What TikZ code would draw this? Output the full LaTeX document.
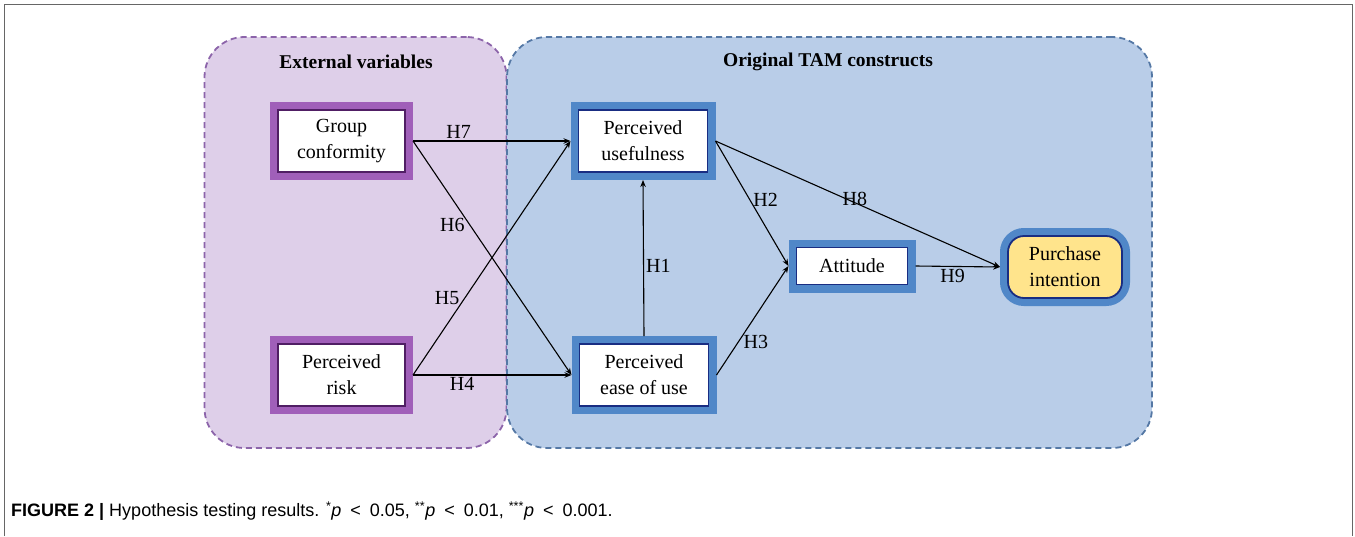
\documentclass[tikz,border=0pt]{standalone}
\usepackage{fontspec}
\setmainfont{Liberation Serif}
\newfontfamily\capfont{Liberation Sans}
\usetikzlibrary{arrows.meta, positioning}

\definecolor{extfill}{RGB}{222,207,233}
\definecolor{extline}{RGB}{140,100,170}
\definecolor{tamfill}{RGB}{185,205,232}
\definecolor{tamline}{RGB}{85,120,165}
\definecolor{purpframe}{RGB}{160,95,185}
\definecolor{purpedge}{RGB}{80,30,100}
\definecolor{blueframe}{RGB}{80,135,200}
\definecolor{blueedge}{RGB}{25,45,130}
\definecolor{piyellow}{RGB}{255,228,140}

\tikzset{
  region/.style={rectangle, rounded corners=40pt, draw=#1, line width=1.8pt,
    dash pattern=on 6pt off 4pt},
  header/.style={font=\bfseries\fontsize{19.5}{22}\selectfont},
  construct/.style={rectangle, fill=white, line width=1.8pt, align=center,
    inner sep=2pt, outer sep=8pt, minimum height=62pt,
    font=\fontsize{20}{26}\selectfont},
  extvar/.style={construct, draw=purpedge,
    preaction={draw=purpframe, line width=16pt}, minimum width=127pt},
  tamvar/.style={construct, draw=blueedge,
    preaction={draw=blueframe, line width=16pt}, minimum width=129pt},
  conn/.style={-{Stealth[length=7pt,width=5.5pt]}, line width=1.1pt},
  hlab/.style={font=\fontsize{20}{24}\selectfont, inner sep=2pt}
}

\begin{document}
\begin{tikzpicture}[x=1pt,y=-1pt]
  \useasboundingbox (0,0) rectangle (1355,536);
  % Frame
  \draw[gray!80!black, line width=1.5pt] (4.5,536) -- (4.5,4.5) -- (1352.5,4.5) -- (1352.5,536);

  % Regions
  \node[region=extline, fill=extfill, minimum width=302pt, minimum height=411pt] (ext) at (355.5,242.5) {};
  \node[region=tamline, fill=tamfill, minimum width=645pt, minimum height=411pt] (tam) at (829.5,242.5) {};
  \node[header] (exthead) at (356,62) {External variables};
  \node[header] (tamhead) at (828,62) {Original TAM constructs};

  % Constructs
  \node[extvar] (gc) at (341.5,141) {Group\\conformity};
  \node[extvar] (pr) at (341.5,375) {Perceived\\risk};
  \node[tamvar] (pu) at (643,141) {Perceived\\usefulness};
  \node[tamvar] (peou) at (644,375) {Perceived\\ease of use};
  \node[tamvar, minimum width=111pt, minimum height=37pt] (att) at (852,266) {Attitude};
  \node[tamvar, fill=piyellow, rounded corners=16pt, minimum width=114pt] (pi) at (1065,267) {Purchase\\intention};

  % Hypotheses
  \draw[conn] (gc.east) -- (pu.west) node[hlab, pos=0.29, above] {H7};
  \draw[conn] (gc.east) -- (peou.west) node[hlab, pos=0.36, left=3pt] {H6};
  \draw[conn] (pr.east) -- (pu.west) node[hlab, pos=0.33, left=3pt] {H5};
  \draw[conn] (pr.east) -- (peou.west) node[hlab, pos=0.31, below] {H4};
  \draw[conn] (peou.north) -- (pu.south) node[hlab, pos=0.45, right] {H1};
  \draw[conn] (pu.east) -- (att.west) node[hlab, pos=0.47, right=1pt] {H2};
  \draw[conn] (peou.east) -- (att.west) node[hlab, pos=0.3, right=3pt] {H3};
  \draw[conn] (pu.east) -- (pi.west) node[hlab, pos=0.49, above=-6pt] {H8};
  \draw[conn] (att.east) -- (pi.west) node[hlab, pos=0.44, below] {H9};

  % Caption
  \node[anchor=west, inner sep=0pt, font=\capfont\fontsize{18}{21}\selectfont] (caption) at (11,511)
    {\textbf{FIGURE 2} \textbf{|} Hypothesis testing results. \textsuperscript{*}\textit{p}\enspace<\enspace0.05, \textsuperscript{**}\textit{p}\enspace<\enspace0.01, \textsuperscript{***}\textit{p}\enspace<\enspace0.001.};
\end{tikzpicture}
\end{document}
